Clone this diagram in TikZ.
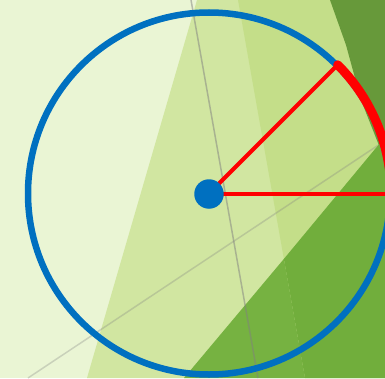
\documentclass[tikz,border=0pt]{standalone}
\usetikzlibrary{calc}
\definecolor{bgc}{HTML}{EAF5D4}
\definecolor{rega}{HTML}{D1E6A1}
\definecolor{regb}{HTML}{C4DE89}
\definecolor{darkg}{HTML}{67993A}
\definecolor{midl}{HTML}{76B241}
\definecolor{midr}{HTML}{71AE3C}
\definecolor{blu}{HTML}{0070C0}
\tikzset{
  greyline/.style={line width=1.5pt, draw=gray, draw opacity=0.5},
  faintline/.style={line width=1.5pt, draw=gray, draw opacity=0.3},
  circ/.style={draw=blu, line width=6.5pt},
  redline/.style={draw=red, line width=4pt},
  redarc/.style={draw=red, line width=9pt, line cap=round},
  dot/.style={circle, fill=blu, minimum size=29.5pt, inner sep=0pt}
}
\begin{document}
\begin{tikzpicture}[x=1pt,y=1pt]
\useasboundingbox (0,0) rectangle (385,378);
\clip (0,0) rectangle (385,378);
\fill[bgc] (0,0) rectangle (385,378);
\fill[rega] (197,378) -- (385,378) -- (385,0) -- (87,0) -- cycle;
\fill[regb] (238,378) -- (385,378) -- (385,0) -- (305,0) -- cycle;
\draw[faintline] (28,0) -- (380,234);
\fill[darkg] (330,378) -- (346,333) -- (361,278) -- (378,235) -- (390,205) -- (390,378) -- cycle;
\fill[midl] (184,0) -- (283.9,119.1) -- (305,0) -- cycle;
\fill[midr] (283.9,119.1) -- (390,247) -- (390,0) -- (305,0) -- cycle;
\draw[greyline] (191,378) -- (258,0);
\coordinate (C) at (209,184.5);
\draw[circ] (C) circle[radius=181];
\coordinate (P) at ($(C)+(45:182)$);
\coordinate (Q) at ($(C)+(0:190)$);
\draw[redline] (C) -- (P);
\draw[redline] (C) -- (Q);
\draw[redarc] (P) arc[start angle=45, end angle=-5, radius=182];
\node[dot] (O) at (209,184) {};
\end{tikzpicture}
\end{document}
